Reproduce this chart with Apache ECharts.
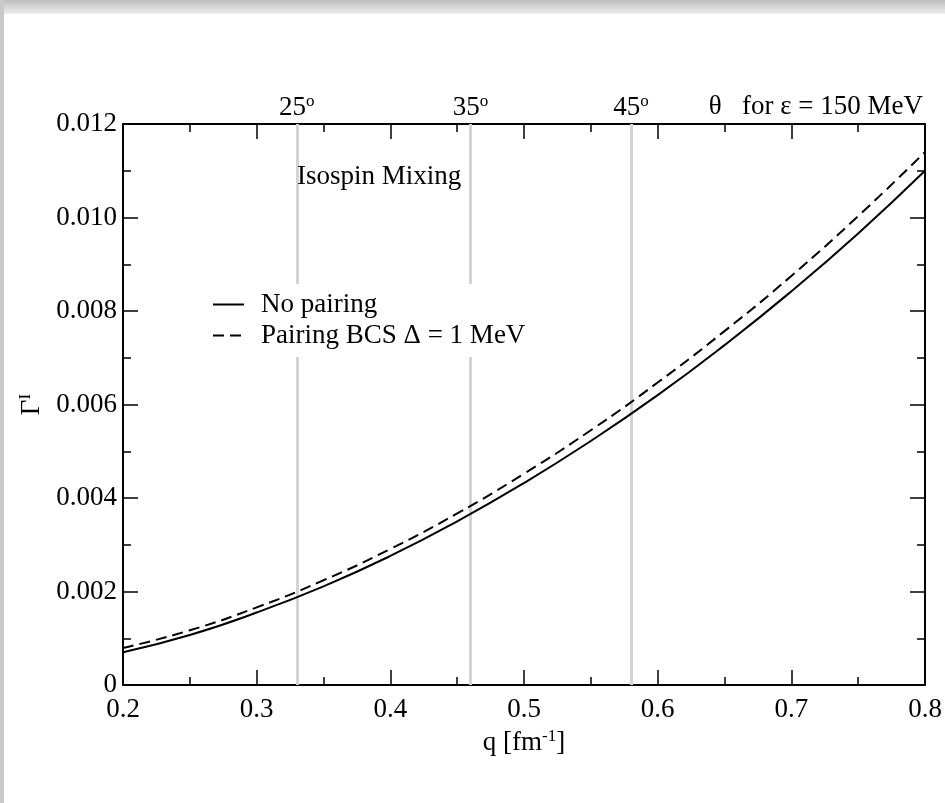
<!DOCTYPE html>
<html><head><meta charset="utf-8">
<script src="https://cdn.jsdelivr.net/npm/echarts@6/dist/echarts.min.js"></script>
<style>html,body{margin:0;padding:0;background:#fff}#c{width:945px;height:803px}</style>
</head><body><div id="c"></div>
<script>
// q [fm^-1]
const qValues   = [0.20, 0.25, 0.30, 0.35, 0.40, 0.45, 0.50, 0.55, 0.60, 0.65, 0.70, 0.75, 0.80];
// Gamma^I, no pairing (solid)
const noPairing = [0.00070, 0.00107, 0.00155, 0.00211, 0.00276, 0.00350, 0.00432, 0.00522, 0.00620, 0.00727, 0.00842, 0.00966, 0.01100];
// Gamma^I, pairing BCS Delta = 1 MeV (dashed)
const pairingBCS = [0.00079, 0.00117, 0.00166, 0.00224, 0.00291, 0.00367, 0.00452, 0.00545, 0.00647, 0.00757, 0.00875, 0.01003, 0.01140];
// scattering angle markers (theta for eps = 150 MeV)
const angleQ = [0.328, 0.456, 0.581];
const angleLabels = ['25', '35', '45'];
const seriesNames = ['No pairing', 'Pairing BCS \u0394 = 1 MeV'];

const FONT = 'Liberation Serif';
const FS = 27;

const chart = echarts.init(document.getElementById('c'), null, {renderer: 'canvas'});

function axisCommon(extra) {
  return Object.assign({
    axisLine: {show: true, onZero: false, lineStyle: {color: '#000', width: 2}},
    axisTick: {show: true, inside: true, length: 15, lineStyle: {color: '#000', width: 1.5}},
    minorTick: {show: true, splitNumber: 2, length: 8, lineStyle: {color: '#000', width: 1.5}},
    splitLine: {show: false},
    minorSplitLine: {show: false}
  }, extra);
}

const supRich = {
  n: {fontFamily: FONT, fontSize: FS, color: '#000', lineHeight: 30},
  s: {fontFamily: FONT, fontSize: 17, color: '#000', verticalAlign: 'top', lineHeight: 30}
};

const option = {
  animation: false,
  backgroundColor: '#fff',
  textStyle: {fontFamily: FONT},
  graphic: [
    {type: 'rect', left: 0, top: 0, z: 100, shape: {width: 945, height: 14},
     style: {fill: new echarts.graphic.LinearGradient(0, 0, 0, 1, [{offset: 0, color: '#bdbdbd'}, {offset: 1, color: '#ededed'}])}},
    {type: 'rect', left: 0, top: 0, z: 100, shape: {width: 4, height: 803}, style: {fill: '#c9c9cc'}}
  ],
  title: [
    {text: 'Isospin Mixing', left: 297, top: 163, padding: 0,
     textStyle: {fontFamily: FONT, fontSize: FS, fontWeight: 'normal', color: '#000'}},
    {text: '\u03b8   for \u03b5 = 150 MeV', right: 22, top: 93, padding: 0,
     textStyle: {fontFamily: FONT, fontSize: FS, fontWeight: 'normal', color: '#000'}}
  ],
  grid: {left: 123, right: 20, top: 124, bottom: 118, containLabel: false},
  legend: {
    data: seriesNames,
    orient: 'vertical',
    left: 207, top: 284,
    padding: [7, 8, 8, 5],
    itemGap: 4,
    itemWidth: 31, itemHeight: 14,
    backgroundColor: '#fff',
    selectedMode: false,
    z: 6,
    itemStyle: {color: 'rgba(0,0,0,0)', borderWidth: 0, opacity: 0},
    textStyle: {fontFamily: FONT, fontSize: FS, color: '#000', padding: [0, 0, 0, 12]}
  },
  xAxis: [
    axisCommon({
      type: 'value', position: 'bottom', min: 0.2, max: 0.8, interval: 0.1,
      axisLabel: {show: true, margin: 11, fontFamily: FONT, fontSize: FS, color: '#000',
        formatter: v => v.toFixed(1)},
      name: '{n|q [fm}{s|-1}{n|]}',
      nameLocation: 'middle', nameGap: 38,
      nameTextStyle: {rich: supRich}
    }),
    axisCommon({
      type: 'value', position: 'top', min: 0.2, max: 0.8, interval: 0.1,
      axisLabel: {show: false}
    })
  ],
  yAxis: [
    axisCommon({
      type: 'value', position: 'left', min: 0, max: 0.012, interval: 0.002,
      axisLabel: {show: true, margin: 6, fontFamily: FONT, fontSize: FS, color: '#000',
        formatter: v => (v === 0 ? '0' : v.toFixed(3))},
      name: '{n|\u0393}{s|I}',
      nameLocation: 'middle', nameRotate: 90, nameGap: 76,
      nameTextStyle: {fontSize: FS, fontFamily: FONT, rich: supRich}
    }),
    axisCommon({
      type: 'value', position: 'right', min: 0, max: 0.012, interval: 0.002,
      axisLabel: {show: false}
    })
  ],
  series: [
    {
      name: 'angles', type: 'line', xAxisIndex: 0, yAxisIndex: 0, z: 1,
      data: [], symbol: 'none', silent: true,
      markLine: {
        silent: true, symbol: ['none', 'none'], animation: false, z: 1,
        lineStyle: {color: '#d4d4d4', width: 3, type: 'solid'},
        label: {show: true, position: 'end', distance: 1, fontSize: FS, fontFamily: FONT,
          color: '#000', rich: supRich},
        emphasis: {disabled: true},
        data: angleQ.map((q, i) => ({xAxis: q,
          label: {formatter: '{n|' + angleLabels[i] + '}{s|o}', fontSize: FS, fontFamily: FONT, rich: supRich}}))
      }
    },
    {
      name: seriesNames[0], type: 'line', xAxisIndex: 0, yAxisIndex: 0, z: 3,
      smooth: true, symbol: 'none', showSymbol: false,
      lineStyle: {color: '#000', width: 2, type: 'solid'},
      itemStyle: {color: '#000'},
      data: qValues.map((q, i) => [q, noPairing[i]])
    },
    {
      name: seriesNames[1], type: 'line', xAxisIndex: 0, yAxisIndex: 0, z: 3,
      smooth: true, symbol: 'none', showSymbol: false,
      lineStyle: {color: '#000', width: 2, type: [11, 6]},
      itemStyle: {color: '#000'},
      data: qValues.map((q, i) => [q, pairingBCS[i]])
    }
  ]
};
chart.setOption(option);
</script>
</body></html>
